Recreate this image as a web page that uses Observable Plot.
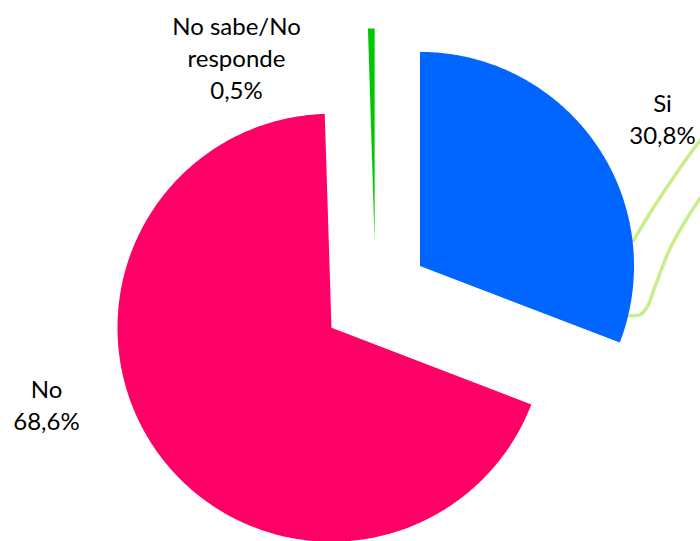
<!DOCTYPE html>
<html>
<head>
<meta charset="utf-8">
<script src="https://cdn.jsdelivr.net/npm/d3@7"></script>
<script src="https://cdn.jsdelivr.net/npm/@observablehq/plot@0.6"></script>
<style>
  html, body { margin: 0; padding: 0; background: #fff; }
  #chart svg { display: block; }
</style>
</head>
<body>
<div id="chart"></div>
<script>
// ---- data ----
const categories = ["Si", "No", "No sabe/No responde"];
const values = [30.8, 68.6, 0.5];
const labels = ["Si\n30,8%", "No\n68,6%", "No sabe/No\nresponde\n0,5%"];
const colors = ["#0066FF", "#FF0066", "#00C800"];

// ---- layout (pixel geometry of the frame) ----
const W = 700, H = 541;
const CX = 375, CY = 296, R = 214;      // pie centre and radius in pixels
const explode = 54 / R;                 // explosion offset (radius units)
const toX = px => (px - CX) / R;
const toY = py => (CY - py) / R;

// pie geometry via d3.pie
const pie = d3.pie().sort(null).startAngle(0).endAngle(2 * Math.PI)(values);
const slicePts = [];
pie.forEach((p, i) => {
  const mid = (p.startAngle + p.endAngle) / 2;
  const ox = explode * Math.sin(mid), oy = explode * Math.cos(mid);
  slicePts.push({cat: categories[i], x: ox, y: oy});
  const n = Math.max(4, Math.ceil((p.endAngle - p.startAngle) / 0.01));
  for (let k = 0; k <= n; k++) {
    const a = p.startAngle + (p.endAngle - p.startAngle) * k / n;
    slicePts.push({cat: categories[i], x: ox + Math.sin(a), y: oy + Math.cos(a)});
  }
  slicePts.push({cat: categories[i], x: ox, y: oy});
});

// label anchors (pixel positions of top of text block, centred)
const labelPos = [[662, 88], [46, 374], [236, 11]];
const labelData = categories.map((c, i) => ({cat: c, text: labels[i], x: toX(labelPos[i][0]), y: toY(labelPos[i][1])}));

// leader lines (light green), pixel traces converted to pie units
const leader1 = [[633,240],[653,207],[673,177],[692,150],[705,133]];
const leader2 = [[628,315],[640,314],[647,306],[653,290],[670,247],[687,217],[705,190]];
const leaders = [
  ...leader1.map(([px,py]) => ({id: 1, x: toX(px), y: toY(py)})),
  ...leader2.map(([px,py]) => ({id: 2, x: toX(px), y: toY(py)}))
];

const chart = Plot.plot({
  width: W,
  height: H,
  margin: 0,
  x: {domain: [toX(0), toX(W)], range: [0, W], axis: null},
  y: {domain: [toY(H), toY(0)], range: [H, 0], axis: null},
  color: {domain: categories, range: colors},
  style: {background: "#fff"},
  marks: [
    Plot.line(leaders, {x: "x", y: "y", z: "id", stroke: "#c8ee8c", strokeWidth: 3.5, curve: "catmull-rom"}),
    Plot.line(slicePts, {x: "x", y: "y", z: "cat", fill: "cat", stroke: "none", curve: "linear"}),
    Plot.text(labelData, {
      x: "x", y: "y", text: "text",
      fontFamily: "Lato, 'Open Sans', sans-serif", fontSize: 24,
      lineAnchor: "top", lineHeight: 1.35, textAnchor: "middle", fill: "#000"
    })
  ]
});
document.getElementById("chart").appendChild(chart);
</script>
</body>
</html>
